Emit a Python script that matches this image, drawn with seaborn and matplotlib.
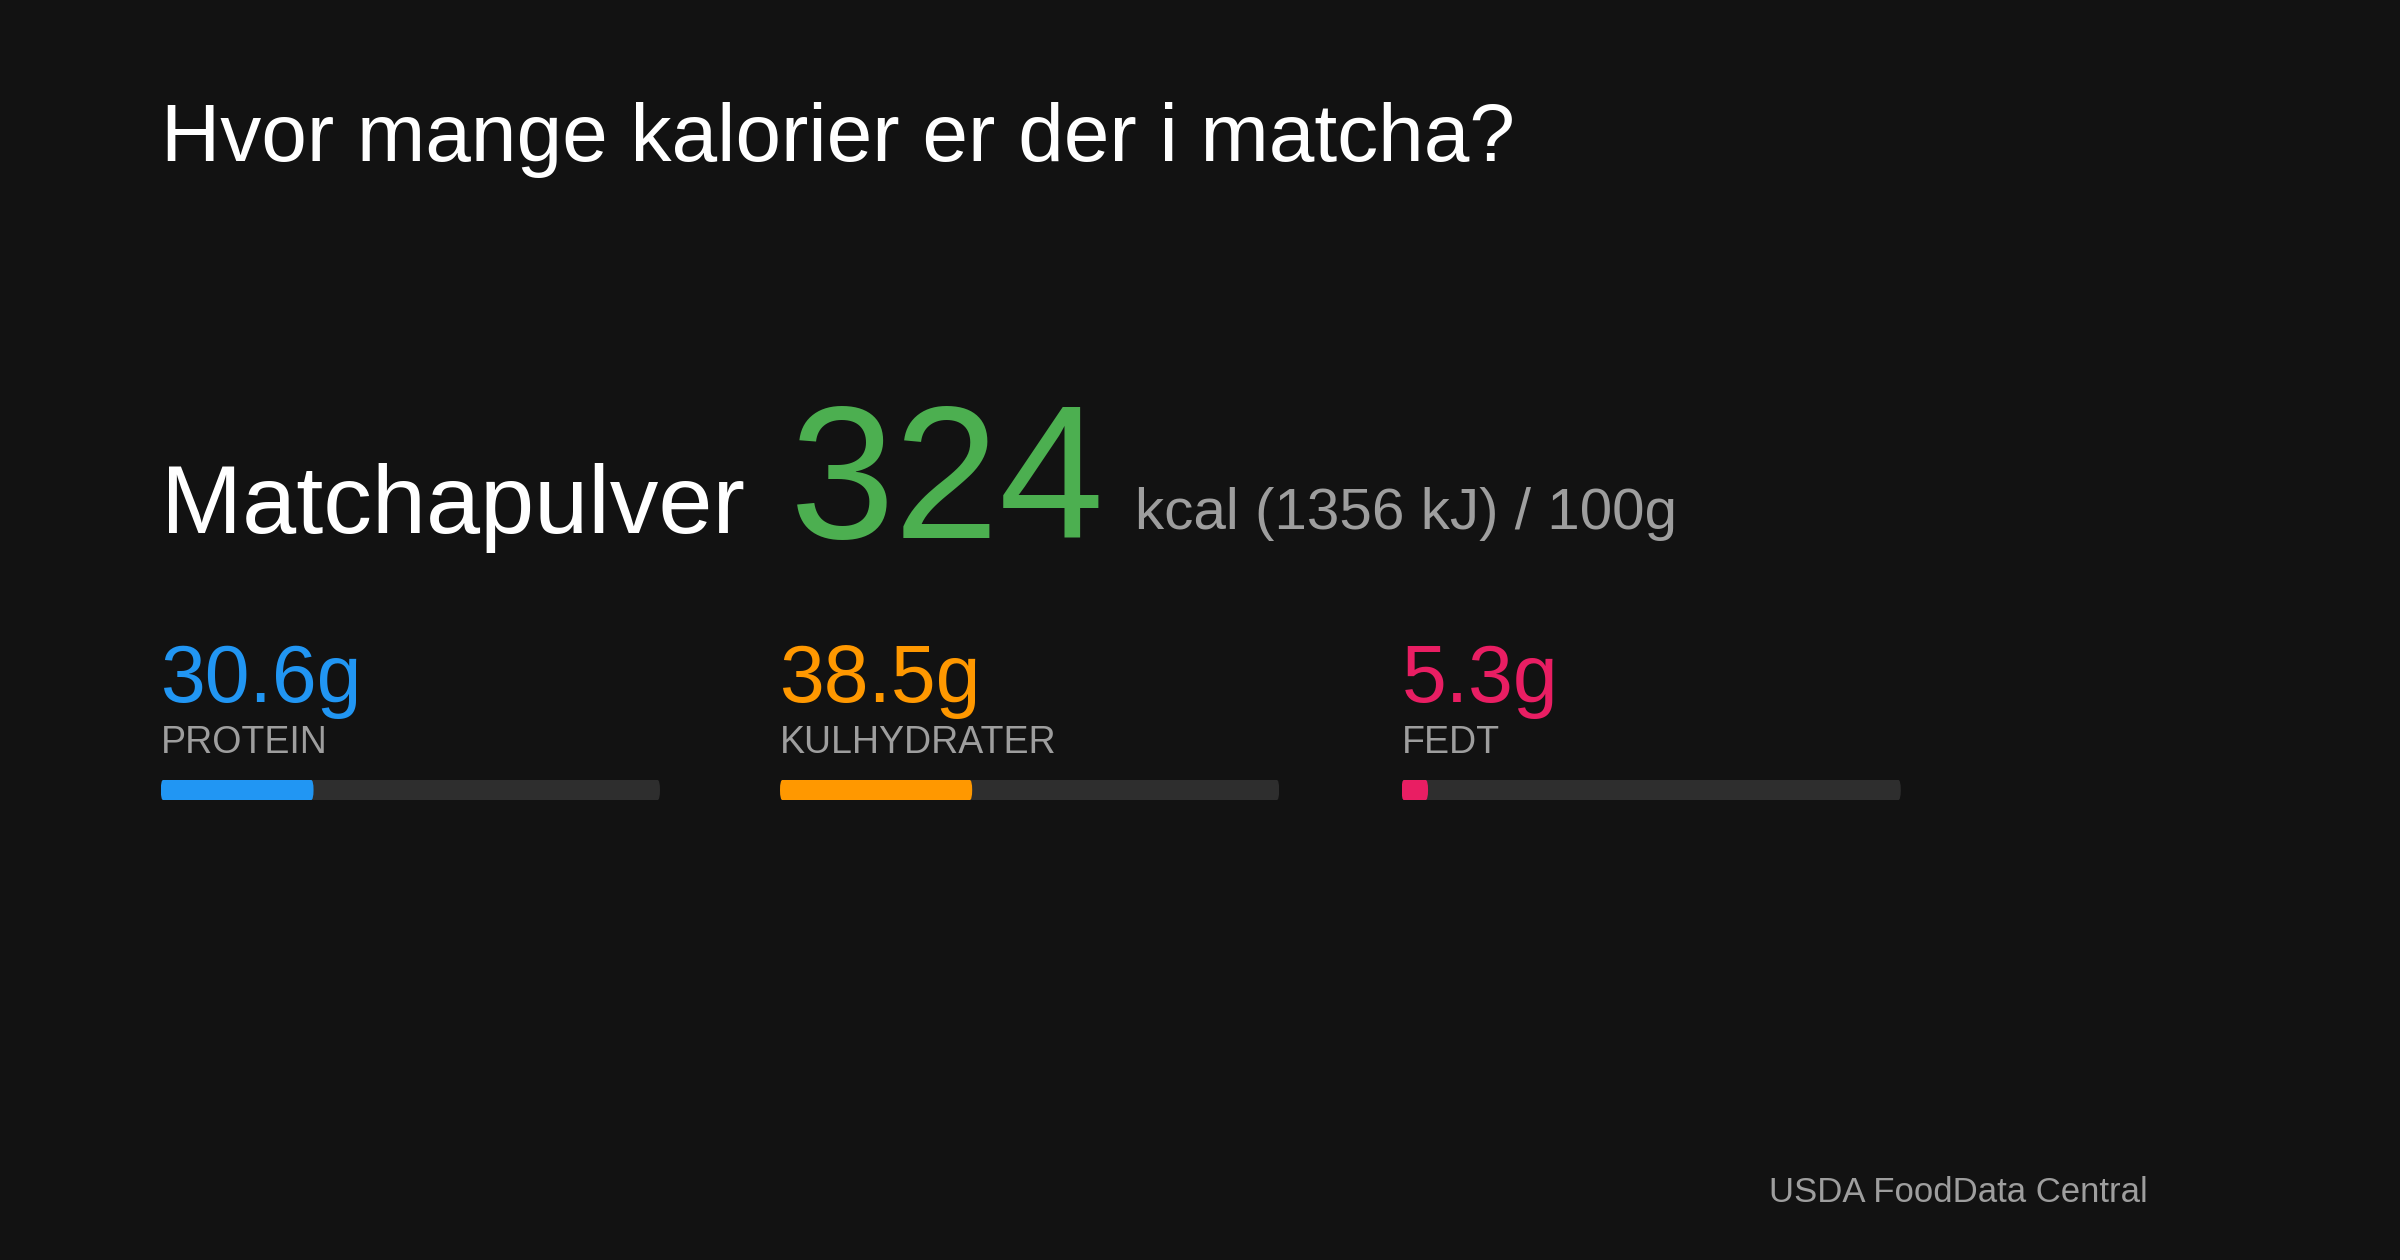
import matplotlib
matplotlib.use("Agg")
import matplotlib.pyplot as plt
import seaborn as sns
import pandas as pd
from matplotlib.patches import FancyBboxPatch

title = "Hvor mange kalorier er der i matcha?"
food = "Matchapulver"
kcal = 324
kj = 1356
nutrients = ["PROTEIN", "KULHYDRATER", "FEDT"]
grams = [30.6, 38.5, 5.3]
colors = ["#2196F3", "#FF9800", "#E91E63"]
scale_max = 100
source = "USDA FoodData Central"

sns.set_theme(style="white")
plt.rcParams['font.family'] = ['Liberation Sans', 'DejaVu Sans']
BG = "#121212"
fig = plt.figure(figsize=(24, 12.6), dpi=100, facecolor=BG)

fig.text(0.067, 0.872, title, color="white", fontsize=59, va="baseline")
fig.text(0.067, 0.577, food, color="white", fontsize=70, va="baseline")
fig.text(0.329, 0.573, str(kcal), color="#4CAF50", fontsize=136, va="baseline")
fig.text(0.473, 0.580, f"kcal ({kj} kJ) / 100g", color="#9E9E9E", fontsize=42, va="baseline")

xs = [0.067, 0.325, 0.584]
for x, name, g, c in zip(xs, nutrients, grams, colors):
    fig.text(x, 0.443, f"{g}g", color=c, fontsize=58, va="baseline")
    fig.text(x, 0.402, name, color="#9E9E9E", fontsize=27, va="baseline")
    ax = fig.add_axes([x, 0.365, 0.208, 0.016])
    ax.set_facecolor(BG)
    df = pd.DataFrame({"v": [scale_max], "k": ["a"]})
    sns.barplot(data=df, x="v", y="k", color="#2e2e2e", width=1.0, ax=ax, saturation=1, linewidth=0)
    df2 = pd.DataFrame({"v": [g], "k": ["a"]})
    sns.barplot(data=df2, x="v", y="k", color=c, width=1.0, ax=ax, saturation=1, linewidth=0)
    ax.set_xlim(0, scale_max)
    ax.set_ylim(0.5, -0.5)
    # round the bar ends
    for p in list(ax.patches):
        bx, by, bw, bh = p.get_x(), p.get_y(), p.get_width(), p.get_height()
        fc = p.get_facecolor()
        p.remove()
        ax.add_patch(FancyBboxPatch((bx, by), bw, bh, boxstyle="round,pad=0,rounding_size=0.5",
                                    mutation_aspect=1 / 0.5 * 0.5 * (bh / 1), facecolor=fc, linewidth=0))
    ax.set_axis_off()

fig.text(0.895, 0.046, source, color="#9E9E9E", fontsize=25, va="baseline", ha="right")
fig.savefig("out.png", facecolor=BG)
